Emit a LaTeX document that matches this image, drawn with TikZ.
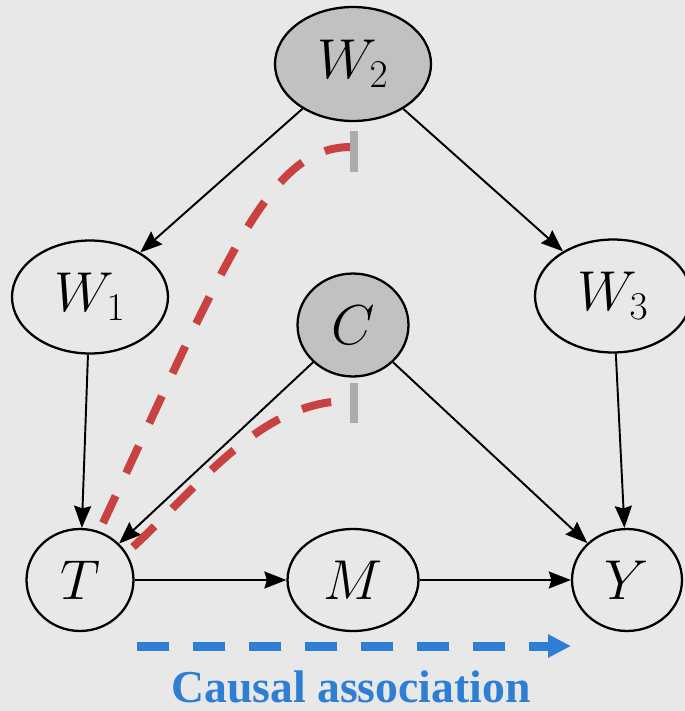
\RequirePackage{fix-cm}
\documentclass[tikz,border=0pt]{standalone}
\usepackage[no-math]{fontspec}
\newfontfamily\assocfont{Liberation Serif}
\usepackage{tikz}
\usetikzlibrary{arrows.meta, shapes.geometric}
\usepackage{xcolor}
\definecolor{bggray}{RGB}{232,232,232}
\definecolor{condgray}{RGB}{193,193,193}
\definecolor{blockgray}{RGB}{171,171,171}
\definecolor{pathred}{RGB}{200,66,66}
\definecolor{causalblue}{RGB}{46,126,212}

\tikzset{
  var/.style={draw, ellipse, line width=1.3pt, fill=bggray, inner sep=0pt,
    font=\fontsize{32}{38}\selectfont},
  condvar/.style={var, fill=condgray},
  edge/.style={-{Stealth[length=0.44cm, width=0.34cm, inset=0.05cm]}, line width=1.1pt},
  backdoor/.style={pathred, line width=0.16cm, dash pattern=on 0.6cm off 0.5cm},
  blocker/.style={blockgray, line width=0.16cm},
}

\begin{document}
\begin{tikzpicture}[x=0.02cm, y=-0.02cm]
  \fill[bggray] (0,0) rectangle (685,711);
  \useasboundingbox (0,0) rectangle (685,711);

  \coordinate (pW2) at (353,64);
  \coordinate (pW1) at (90,297);
  \coordinate (pW3) at (613,296);
  \coordinate (pC) at (353,325);
  \coordinate (pT) at (80,580);
  \coordinate (pM) at (353,580);
  \coordinate (pY) at (627,580);

  \node[condvar, minimum width=3.12cm, minimum height=2.28cm] (W2) at (pW2) {$W_2$};
  \node[var, minimum width=3.12cm, minimum height=2.26cm] (W1) at (pW1) {$W_1$};
  \node[var, minimum width=3.12cm, minimum height=2.26cm] (W3) at (pW3) {$W_3$};
  \node[condvar, minimum width=2.22cm, minimum height=2.06cm] (C) at (pC) {$C$};
  \node[var, minimum width=2.14cm, minimum height=2.04cm] (T) at (pT) {$T$};
  \node[var, minimum width=2.62cm, minimum height=2.04cm] (M) at (pM) {$M$};
  \node[var, minimum width=2.2cm, minimum height=2.04cm] (Y) at (pY) {$Y$};

  \draw[edge] (W2) -- (W1);
  \draw[edge] (W2) -- (W3);
  \draw[edge] (W1) -- (T);
  \draw[edge] (W3) -- (Y);
  \draw[edge] (C) -- (T);
  \draw[edge] (C) -- (Y);
  \draw[edge] (T) -- (M);
  \draw[edge] (M) -- (Y);

  \coordinate (bd1) at (103,523);
  \coordinate (bd1end) at (350,147);
  \coordinate (bd2) at (133,547);
  \coordinate (bd2end) at (345,401);
  \draw[backdoor] (bd1) .. controls (230,250) and (270,148) .. (bd1end);
  \draw[backdoor] (bd2) .. controls (200,485) and (260,403) .. (bd2end);

  \draw[blocker] (354,131) -- (354,172);
  \draw[blocker] (354,383) -- (354,423);

  \coordinate (cs) at (137,646);
  \coordinate (ce) at (571,646);
  \draw[causalblue, line width=0.18cm, dash pattern=on 0.64cm off 0.48cm,
    -{Triangle[length=0.46cm, width=0.44cm]}] (cs) -- (ce);
  \node[anchor=base, inner sep=0pt, text=causalblue,
    font={\assocfont\bfseries\fontsize{26}{30}\selectfont}] (assoc) at (351,702) {Causal association};
\end{tikzpicture}
\end{document}
